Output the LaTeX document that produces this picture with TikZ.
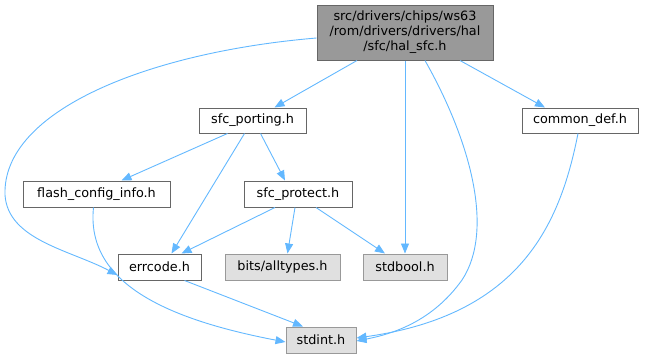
\documentclass[tikz,border=0pt]{standalone}
\usepackage{fontspec}
\setmainfont{DejaVu Sans}
\usepackage{tikz}
\usetikzlibrary{arrows.meta, positioning}
\definecolor{incEdge}{HTML}{63B8FF}
\definecolor{incLine}{HTML}{666666}
\definecolor{extLine}{HTML}{999999}
\definecolor{extFill}{HTML}{E0E0E0}

\begin{document}
\begin{tikzpicture}[x=1pt, y=-1pt,
  file/.style={draw=incLine, fill=white, line width=1pt, inner sep=0pt,
               minimum height=26pt, font=\fontsize{12.8}{15}\selectfont},
  ext/.style={file, draw=extLine, fill=extFill},
  top/.style={file, fill=extLine, align=center},
  arr/.style={-{Triangle[length=10pt,width=8pt]}, incEdge, line width=0.9pt}
]
  \useasboundingbox (0,0) rectangle (646,359);

  \node[top, minimum width=176pt, minimum height=55pt] (hal) at (405,32.5)
    {src/drivers/chips/ws63\\/rom/drivers/drivers/hal\\/sfc/hal\_sfc.h};
  \node[file, minimum width=107pt, minimum height=25pt] (port) at (252.5,120.5) {sfc\_porting.h};
  \node[file, minimum width=116pt, minimum height=25pt] (cdef) at (580,120.5) {common\_def.h};
  \node[file, minimum width=147pt] (flash) at (96.5,194) {flash\_config\_info.h};
  \node[file, minimum width=108pt] (prot) at (298,194) {sfc\_protect.h};
  \node[file, minimum width=83pt] (err) at (159.5,267) {errcode.h};
  \node[ext, minimum width=115pt] (alltypes) at (282.5,267) {bits/alltypes.h};
  \node[ext, minimum width=84pt] (bool) at (405,267) {stdbool.h};
  \node[ext, minimum width=70pt] (int) at (321,340) {stdint.h};

  \draw[arr] ([xshift=-48pt]hal.south) -- ([xshift=22pt]port.north);
  \draw[arr] ([yshift=-5.5pt]hal.west) .. controls (150,52) and (2,110) .. (5,195)
    .. controls (8,240) and (70,250) .. ([yshift=-8pt]err.west);
  \draw[arr] (hal.south) -- (bool.north);
  \draw[arr] ([xshift=20pt]hal.south) .. controls (470,140) and (495,230) .. (462,280)
    .. controls (432,322) and (392,334) .. ([yshift=-1pt]int.east);
  \draw[arr] ([xshift=55pt]hal.south) -- ([xshift=-35pt]cdef.north);

  \draw[arr] ([xshift=-25pt]port.south) -- ([xshift=25pt]flash.north);
  \draw[arr] ([xshift=-8pt]port.south) -- ([xshift=12pt]err.north);
  \draw[arr] ([xshift=8pt]port.south) -- ([xshift=-13pt]prot.north);

  \draw[arr] ([xshift=-3pt]flash.south) .. controls (86,280) and (160,318) .. ([yshift=-2pt]int.west);
  \draw[arr] ([xshift=-23pt]prot.south) -- ([xshift=22pt]err.north);
  \draw[arr] ([xshift=-3pt]prot.south) -- ([xshift=5pt]alltypes.north);
  \draw[arr] ([xshift=18pt]prot.south) -- ([xshift=-20pt]bool.north);

  \draw[arr] ([xshift=25pt]err.south) -- ([xshift=-18pt]int.north);
  \draw[arr] ([xshift=-2pt]cdef.south) .. controls (560,225) and (520,315) .. ([yshift=2pt]int.east);
\end{tikzpicture}
\end{document}
